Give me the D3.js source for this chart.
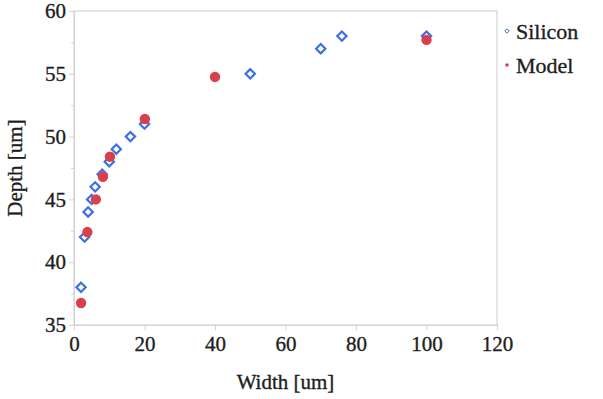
<!DOCTYPE html>
<html>
<head>
<meta charset="utf-8">
<script src="https://cdn.jsdelivr.net/npm/d3@7"></script>
<style>
  body { margin: 0; background: #fff; }
  svg text { font-family: "Liberation Serif", "DejaVu Serif", serif !important; fill: #1e1e1e; stroke: #1e1e1e; stroke-width: 0.35px; }
</style>
</head>
<body>
<div id="chart"></div>
<script>
// data
var siliconWidth = [2, 3, 4, 5, 6, 8, 10, 12, 16, 20, 50, 70, 76, 100]
var siliconDepth = [38, 42, 44, 45, 46, 47, 48, 49, 50, 51, 55, 57, 58, 58]
var modelWidth = [2, 3.8, 6.2, 8.2, 10.2, 20.1, 40, 100]
var modelDepth = [36.75, 42.4, 45, 46.8, 48.4, 51.4, 54.75, 57.7]
var xTicks = [0, 20, 40, 60, 80, 100, 120]
var yTicks = [35, 40, 45, 50, 55, 60]
var yMinor = [37.5, 42.5, 47.5, 52.5, 57.5]
var seriesNames = ["Silicon", "Model"]

var margin = { left: 74, right: 106, top: 11, bottom: 74 }
var width = 603 - margin.left - margin.right
var height = 399 - margin.top - margin.bottom

var blue = "#3d6fe6", red = "#d9404e", axisGrey = "#d4d4d4"

var svg = d3.select("#chart").append("svg")
    .attr("width", 603)
    .attr("height", 399)
var g = svg.append("g")
    .attr("transform", "translate(" + margin.left + "," + margin.top + ")")

var x = d3.scaleLinear().domain([0, 120]).range([0, width])
var y = d3.scaleLinear().domain([35, 60]).range([height, 0])

// frame
g.append("rect")
    .attr("width", width)
    .attr("height", height)
    .attr("fill", "none")
    .attr("stroke", axisGrey)
    .attr("stroke-width", 1.2)

var xAxis = g.append("g")
    .attr("transform", "translate(0," + height + ")")
    .call(d3.axisBottom(x).tickValues(xTicks).tickSize(5).tickPadding(6))
var yAxis = g.append("g")
    .call(d3.axisLeft(y).tickValues(yTicks).tickSize(5).tickPadding(3))
g.append("g")
    .call(d3.axisLeft(y).tickValues(yMinor).tickSize(3).tickFormat(""))
    .call(a => a.select(".domain").remove())
    .selectAll("line").attr("stroke", axisGrey)

;[xAxis, yAxis].forEach(a => {
    a.attr("font-family", "Liberation Serif").attr("font-size", 21)
    a.select(".domain").attr("stroke", axisGrey)
    a.selectAll(".tick line").attr("stroke", axisGrey)
    a.selectAll(".tick text").attr("fill", "#1e1e1e")
})

// axis titles
g.append("text")
    .attr("x", width / 2)
    .attr("y", height + 64)
    .attr("text-anchor", "middle")
    .attr("font-size", "21px")
    .text("Width [um]")
g.append("text")
    .attr("transform", "rotate(-90)")
    .attr("x", -height / 2)
    .attr("y", -52)
    .attr("text-anchor", "middle")
    .attr("font-size", "21px")
    .text("Depth [um]")

var diamond = d3.symbol().type(d3.symbolDiamond2)

// silicon diamonds
g.selectAll(".silicon")
    .data(siliconWidth.map((w, i) => [w, siliconDepth[i]]))
    .enter().append("path")
    .attr("class", "silicon")
    .attr("d", diamond.size(55)())
    .attr("transform", d => "translate(" + x(d[0]) + "," + y(d[1]) + ")")
    .attr("fill", "#fff")
    .attr("stroke", blue)
    .attr("stroke-width", 2.2)

// model dots
g.selectAll(".model")
    .data(modelWidth.map((w, i) => [w, modelDepth[i]]))
    .enter().append("circle")
    .attr("class", "model")
    .attr("cx", d => x(d[0]))
    .attr("cy", d => y(d[1]))
    .attr("r", 5.2)
    .attr("fill", red)

// legend
var legend = svg.selectAll(".legend")
    .data(seriesNames)
    .enter().append("g")
    .attr("class", "legend")
    .attr("transform", (d, i) => "translate(507," + (31 + i * 34) + ")")
legend.append("path")
    .attr("d", (d, i) => i == 0
        ? d3.symbol().type(d3.symbolDiamond2).size(12)()
        : d3.symbol().type(d3.symbolCircle).size(10)())
    .attr("fill", (d, i) => i == 0 ? "#fff" : red)
    .attr("stroke", (d, i) => i == 0 ? blue : "none")
    .attr("stroke-width", 1)
legend.append("text")
    .attr("x", 9)
    .attr("y", 8)
    .attr("font-size", "22px")
    .text(d => d)
</script>
</body>
</html>
